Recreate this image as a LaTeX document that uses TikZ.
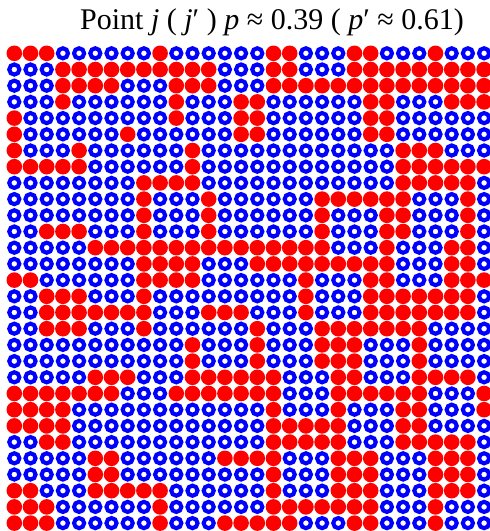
\documentclass[tikz,border=0pt]{standalone}
\usepackage{fontspec}
\setmainfont{Liberation Serif}
\begin{document}
\begin{tikzpicture}[x=1pt,y=-1pt,
  redc/.style={circle,fill=red,draw=none,inner sep=0pt,minimum size=15.6pt},
  bluec/.style={circle,draw=blue,line width=4.1pt,inner sep=0pt,minimum size=10.1pt},
  ttl/.style={font=\fontsize{30}{36}\selectfont,anchor=base,inner sep=0pt}]
\useasboundingbox (0,0) rectangle (490,531);
\node[ttl] (title) at (272,29.3) {Point \textit{j} ( \textit{j}′ ) \textit{p} ≈ 0.39 ( \textit{p}′ ≈ 0.61)};
\foreach \cells [count=\r from 0] in {
{1,1,1,0,0,0,0,0,0,1,0,0,0,0,0,0,1,1,0,0,0,1,1,0,0,0,1,0,0,0},
{0,0,0,1,1,1,1,1,1,1,1,1,1,0,0,0,1,1,0,0,0,1,1,1,1,1,1,1,1,1},
{0,0,0,1,1,1,1,0,0,0,1,1,1,0,0,0,1,1,1,1,1,1,1,1,1,1,1,1,1,1},
{0,0,0,1,0,0,0,0,0,0,1,0,0,0,1,1,0,0,0,0,0,0,1,1,0,0,0,1,1,1},
{1,0,0,0,0,0,0,0,0,0,1,0,0,0,1,1,0,0,0,0,0,0,1,1,0,0,0,0,0,0},
{1,0,0,0,0,0,0,1,0,0,0,0,0,0,1,1,0,0,0,0,0,0,1,1,0,0,0,0,0,0},
{1,0,0,0,1,0,0,0,0,0,0,1,0,0,0,0,0,0,0,0,0,0,0,0,1,1,1,0,0,0},
{1,1,1,1,1,0,0,0,0,0,0,1,0,0,0,0,0,0,0,0,0,0,0,0,1,1,1,1,1,1},
{0,0,0,0,0,0,0,0,1,1,1,1,0,0,0,0,0,0,0,0,0,0,0,0,1,1,1,1,1,0},
{0,0,0,0,0,0,0,0,1,0,0,0,1,0,0,0,0,0,0,1,1,1,1,1,1,0,0,0,1,0},
{0,0,0,0,0,0,0,0,1,0,0,0,1,0,0,0,0,0,0,1,0,0,0,1,1,0,0,0,1,0},
{0,0,1,1,1,0,0,0,1,0,0,0,1,0,0,0,0,0,0,1,0,0,0,1,1,0,0,0,1,0},
{0,0,0,0,0,1,1,1,1,1,1,1,1,1,1,1,1,1,1,1,0,0,0,1,0,0,0,1,1,0},
{0,0,0,0,0,0,0,0,1,1,1,1,0,0,0,1,1,1,1,1,1,1,1,1,0,0,0,1,1,0},
{1,1,0,0,0,0,0,0,1,1,1,1,0,0,0,0,0,0,1,0,0,0,1,1,0,0,0,1,1,1},
{0,0,1,1,1,0,0,0,1,0,0,0,0,0,0,0,0,0,1,0,0,0,1,1,1,1,1,1,1,0},
{0,0,1,1,1,1,1,1,1,0,0,0,1,1,1,0,0,0,1,0,0,0,1,1,1,1,1,1,1,0},
{0,0,1,1,1,0,0,0,1,0,0,0,0,0,0,1,0,0,0,1,1,1,1,1,1,1,0,0,0,0},
{0,0,0,0,0,0,0,0,0,0,0,1,0,0,0,1,0,0,0,1,1,1,0,0,0,1,0,0,0,0},
{0,0,0,0,0,0,0,0,0,0,0,1,0,0,0,1,0,0,0,1,1,1,0,0,0,1,0,0,0,0},
{0,0,0,0,0,1,1,1,0,0,0,1,1,1,1,1,1,0,0,0,1,1,0,0,0,1,1,1,1,0},
{1,1,1,1,1,1,1,0,0,0,1,1,1,1,1,1,1,0,0,0,1,1,1,1,1,1,0,0,0,1},
{1,1,1,1,0,0,0,0,0,0,0,0,0,0,0,0,1,0,0,0,1,0,0,0,1,1,0,0,0,1},
{1,1,1,1,0,0,0,0,0,0,0,0,0,0,0,0,1,1,1,1,1,0,0,0,1,1,0,0,0,0},
{0,0,1,1,0,0,0,0,0,0,0,0,0,0,0,0,1,1,1,1,1,0,0,0,1,1,1,1,1,0},
{0,0,0,0,0,1,1,0,0,0,0,0,0,1,1,1,1,0,0,0,1,1,1,0,0,0,1,1,1,0},
{0,0,0,0,0,1,1,0,0,0,0,0,0,0,0,0,1,0,0,0,1,1,1,0,0,0,1,1,1,0},
{1,1,0,0,0,1,1,1,1,1,0,0,0,0,0,0,1,0,0,0,1,1,1,0,0,0,1,1,1,0},
{1,1,1,0,0,0,0,0,0,1,0,0,0,0,0,0,1,1,1,1,1,1,1,0,0,0,1,0,0,0},
{1,1,1,0,0,0,0,0,0,1,0,0,0,1,1,1,1,1,0,0,0,1,1,0,0,0,1,0,0,0}} {
  \foreach \v [count=\c from 0] in \cells {
    \ifnum\v=1
      \node[redc] (c\r-\c) at ({14.3+16.2*\c},{53.3+16.2*\r}) {};
    \else
      \node[bluec] (c\r-\c) at ({14.3+16.2*\c},{53.3+16.2*\r}) {};
    \fi
  }
}
\end{tikzpicture}
\end{document}
